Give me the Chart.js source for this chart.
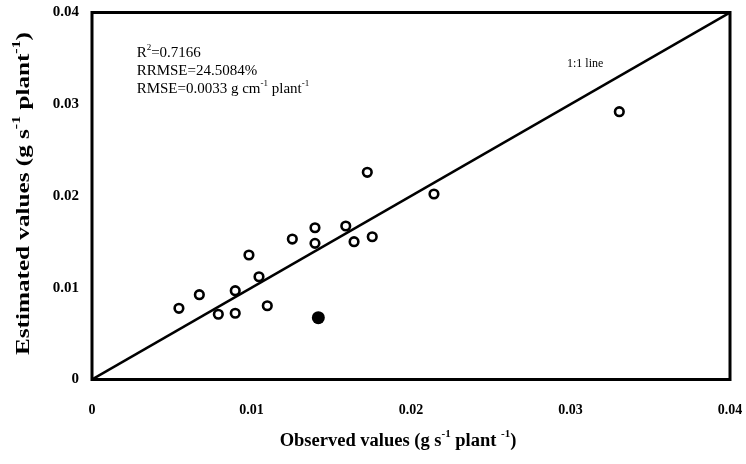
<!DOCTYPE html>
<html>
<head>
<meta charset="utf-8">
<script src="https://cdn.jsdelivr.net/npm/chart.js@4"></script>
<style>
html,body{margin:0;padding:0;background:#fff;}
#wrap{width:746px;height:464px;}
</style>
</head>
<body>
<div id="wrap"><canvas id="c" width="746" height="464"></canvas></div>
<script>
// ---- data ----
const observedOpen = [0.00545,0.00673,0.00792,0.00898,0.00898,0.00984,0.01047,0.01099,0.01256,0.01398,0.01398,0.01591,0.01643,0.01726,0.01757,0.02144,0.03306];
const estimatedOpen = [0.00776,0.00924,0.00711,0.00722,0.00968,0.01357,0.01120,0.00804,0.01531,0.01654,0.01484,0.01673,0.01502,0.02258,0.01556,0.02022,0.02919];
const observedFilled = [0.01419];
const estimatedFilled = [0.00674];
const lineX = [0, 0.04];
const lineY = [0, 0.04];
const xTickLabels = ['0','0.01','0.02','0.03','0.04'];
const yTickLabels = ['0','0.01','0.02','0.03','0.04'];
const statLines = [
  [['R',0],['2',1],['=0.7166',0]],
  [['RRMSE=24.5084%',0]],
  [['RMSE=0.0033 g cm',0],['-1',1],[' plant',0],['-1',1]]
];
const lineLabel = '1:1 line';
const xTitle = [['Observed values (g s',0],['-1',1],[' plant ',0],['-1',1],[')',0]];
const yTitle = [['Estimated values (g s',0],['-1',1],[' plant',0],['-1',1],[')',0]];

const toPts = (xs, ys) => xs.map((x,i)=>({x:x,y:ys[i]}));
const SERIF = '"Liberation Serif","Times New Roman",serif';

function richWidth(ctx, parts, size, weight){
  let w = 0;
  parts.forEach(p=>{
    ctx.font = weight+' '+(p[1]?Math.round(size*0.62):size)+'px '+SERIF;
    w += ctx.measureText(p[0]).width;
  });
  return w;
}
function drawRich(ctx, parts, x, y, size, weight, align){
  const w = richWidth(ctx, parts, size, weight);
  let cx = align==='center' ? x - w/2 : x;
  ctx.textBaseline = 'middle';
  ctx.textAlign = 'left';
  parts.forEach(p=>{
    ctx.font = weight+' '+(p[1]?Math.round(size*0.62):size)+'px '+SERIF;
    ctx.fillText(p[0], cx, p[1] ? y - size*0.38 : y);
    cx += ctx.measureText(p[0]).width;
  });
}

const decor = {
  id:'decor',
  afterDraw(chart){
    const ctx = chart.ctx, a = chart.chartArea;
    const xs = chart.scales.x, ys = chart.scales.y;
    ctx.save();
    ctx.strokeStyle = '#000';
    ctx.lineWidth = 3;
    ctx.strokeRect(a.left, a.top, a.right-a.left, a.bottom-a.top);
    ctx.fillStyle = '#000';
    // stats text
    const sx = xs.getPixelForValue(0.0028);
    const y0 = ys.getPixelForValue(0.0356);
    statLines.forEach((ln,i)=>drawRich(ctx, ln, sx, y0 + i*18, 15, 'normal', 'left'));
    // 1:1 line label
    ctx.font = 'normal 12px '+SERIF;
    ctx.textBaseline='middle'; ctx.textAlign='left';
    ctx.fillText(lineLabel, xs.getPixelForValue(0.02978), ys.getPixelForValue(0.0344));
    // axis titles
    drawRich(ctx, xTitle, 398, 441, 18.5, 'bold', 'center');
    ctx.save();
    ctx.translate(24, 193.5);
    ctx.rotate(-Math.PI/2);
    const yw = richWidth(ctx, yTitle, 19, 'bold');
    ctx.scale(323/yw, 1);
    drawRich(ctx, yTitle, 0, 0, 19, 'bold', 'center');
    ctx.restore();
    ctx.restore();
  }
};

new Chart(document.getElementById('c'), {
  type:'scatter',
  data:{
    datasets:[
      {
        type:'line',
        data: toPts(lineX, lineY),
        borderColor:'#000', borderWidth:2.5, pointRadius:0, fill:false, tension:0
      },
      {
        data: toPts(observedOpen, estimatedOpen),
        pointRadius:4.3, pointBorderWidth:2.6,
        pointBackgroundColor:'#fff', pointBorderColor:'#000'
      },
      {
        data: toPts(observedFilled, estimatedFilled),
        pointRadius:6.5, pointBorderWidth:0,
        pointBackgroundColor:'#000', pointBorderColor:'#000'
      }
    ]
  },
  options:{
    responsive:false,
    animation:false,
    devicePixelRatio:1,
    layout:{padding:{top:12.5, right:16, left:0, bottom:0}},
    plugins:{legend:{display:false}, tooltip:{enabled:false}},
    scales:{
      x:{
        type:'linear', min:0, max:0.04,
        afterFit(s){ s.height = 84.5; s.paddingLeft = 0; s.paddingRight = 0; },
        afterBuildTicks(s){ s.ticks = xTickLabels.map(t=>({value:parseFloat(t)})); },
        grid:{display:false, drawTicks:false},
        border:{display:false},
        ticks:{
          padding:22, color:'#000', maxRotation:0,
          font:{family:SERIF, size:14, weight:'bold'},
          callback:(v,i)=>xTickLabels[i]
        }
      },
      y:{
        type:'linear', min:0, max:0.04,
        afterFit(s){ s.width = 92; s.paddingTop = 0; s.paddingBottom = 0; },
        afterBuildTicks(s){ s.ticks = yTickLabels.map(t=>({value:parseFloat(t)})); },
        grid:{display:false, drawTicks:false},
        border:{display:false},
        ticks:{
          padding:13, color:'#000',
          font:{family:SERIF, size:15, weight:'bold'},
          callback:(v,i)=>yTickLabels[i]
        }
      }
    }
  },
  plugins:[decor]
});
</script>
</body>
</html>
